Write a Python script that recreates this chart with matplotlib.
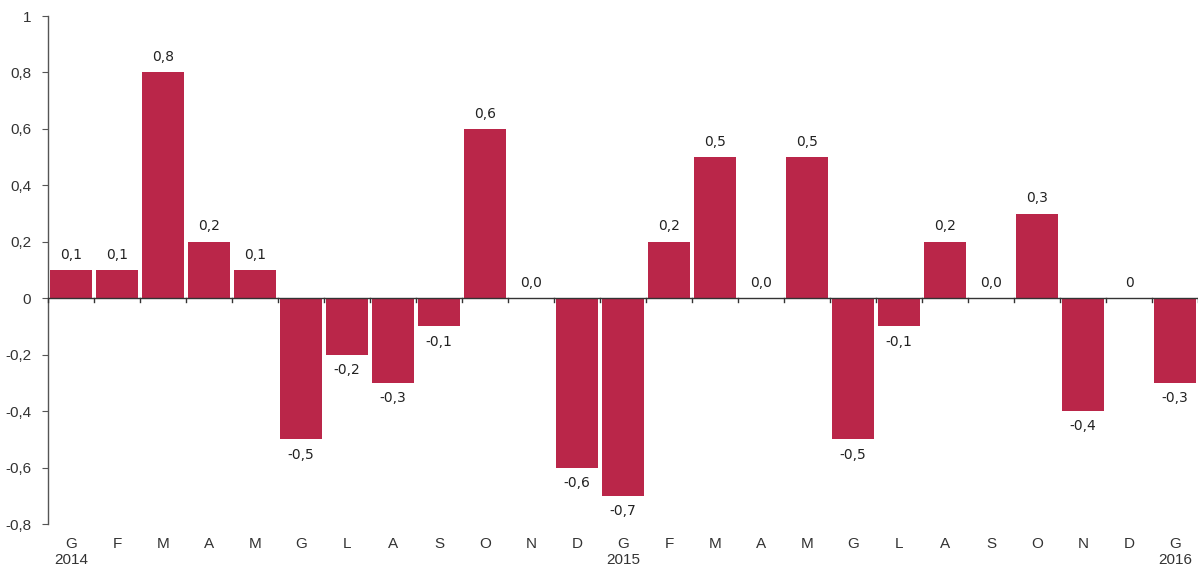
import matplotlib
matplotlib.use("Agg")
import matplotlib.pyplot as plt
import numpy as np

months = ["G", "F", "M", "A", "M", "G", "L", "A", "S", "O", "N", "D",
          "G", "F", "M", "A", "M", "G", "L", "A", "S", "O", "N", "D", "G"]
years = {0: "2014", 12: "2015", 24: "2016"}
values = [0.1, 0.1, 0.8, 0.2, 0.1, -0.5, -0.2, -0.3, -0.1, 0.6, 0.0, -0.6,
          -0.7, 0.2, 0.5, 0.0, 0.5, -0.5, -0.1, 0.2, 0.0, 0.3, -0.4, 0.0, -0.3]
labels = ["0,1", "0,1", "0,8", "0,2", "0,1", "-0,5", "-0,2", "-0,3", "-0,1", "0,6", "0,0", "-0,6",
          "-0,7", "0,2", "0,5", "0,0", "0,5", "-0,5", "-0,1", "0,2", "0,0", "0,3", "-0,4", "0", "-0,3"]
yticks = [-0.8, -0.6, -0.4, -0.2, 0, 0.2, 0.4, 0.6, 0.8, 1]
ytick_labels = ["-0,8", "-0,6", "-0,4", "-0,2", "0", "0,2", "0,4", "0,6", "0,8", "1"]

color = "#BA2649"
fig = plt.figure(figsize=(11.98, 5.66), dpi=100)
ax = fig.add_axes([48/1198, 42/566, 1150/1198, 508/566])

x = np.arange(len(values))
ax.bar(x, values, width=0.9, color=color, zorder=2)
ax.set_xlim(-0.5, len(values) - 0.5)
ax.set_ylim(-0.8, 1.0)

for xi, v, lab in zip(x, values, labels):
    if v >= 0:
        ax.annotate(lab, (xi, v), xytext=(0, 6), textcoords="offset points",
                    ha="center", va="bottom", fontsize=10, color="#222222",
                    family="DejaVu Sans")
    else:
        ax.annotate(lab, (xi, v), xytext=(0, -6), textcoords="offset points",
                    ha="center", va="top", fontsize=10, color="#222222",
                    family="DejaVu Sans")

for s in ["top", "right", "bottom"]:
    ax.spines[s].set_visible(False)
ax.spines["left"].set_color("#555555")
ax.spines["left"].set_linewidth(1.0)

ax.set_yticks(yticks)
ax.set_yticklabels(ytick_labels, family="Liberation Sans", fontsize=11, color="#333333")
ax.tick_params(axis="y", length=4, color="#555555", direction="out", pad=8)

ax.set_xticks([])
# zero baseline with category separators
ax.axhline(0, color="#333333", linewidth=1.0, zorder=3)
for b in np.arange(-0.5, len(values), 1.0):
    ax.plot([b, b], [0, -0.012], color="#333333", linewidth=1.0, zorder=3, clip_on=False)

trans = ax.get_xaxis_transform()
for xi, m in zip(x, months):
    ax.text(xi, -0.026, m, transform=trans, ha="center", va="top",
            family="Liberation Sans", fontsize=11, color="#333333")
for xi, y in years.items():
    ax.text(xi, -0.057, y, transform=trans, ha="center", va="top",
            family="Liberation Sans", fontsize=11, color="#333333")

fig.savefig("out.png", dpi=100)
